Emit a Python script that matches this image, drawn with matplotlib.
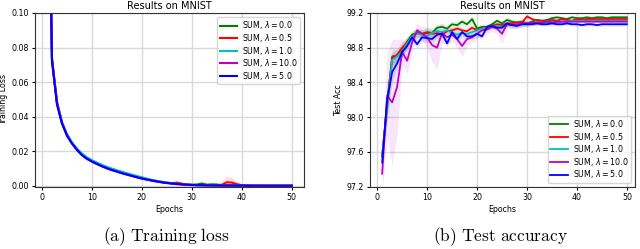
import numpy as np
import matplotlib
matplotlib.use('Agg')
import matplotlib.pyplot as plt

epochs = list(range(1, 51))
labels = [r'SUM, $\lambda = 0.0$', r'SUM, $\lambda = 0.5$', r'SUM, $\lambda = 1.0$',
          r'SUM, $\lambda = 10.0$', r'SUM, $\lambda = 5.0$']
colors = ['g', 'r', 'c', 'm', 'b']

# training loss per epoch
loss_l00 = [0.25, 0.073, 0.048, 0.0365, 0.0295, 0.0248, 0.0212, 0.0182, 0.0160, 0.0144,
            0.0130, 0.0117, 0.0105, 0.0095, 0.0086, 0.0077, 0.0069, 0.0061, 0.0053, 0.0046,
            0.0039, 0.0033, 0.0027, 0.0022, 0.0018, 0.0015, 0.0012, 0.0010, 0.0008, 0.0006,
            0.0008, 0.0014, 0.0007, 0.0009, 0.0008, 0.0004, 0.0003, 0.0003, 0.0002, 0.0002,
            0.0002, 0.0001, 0.0001, 0.0001, 0.0001, 0.0001, 0.0001, 0.0001, 0.0001, 0.0001]
loss_l05 = [0.25, 0.073, 0.048, 0.0365, 0.0295, 0.0248, 0.0211, 0.0181, 0.0159, 0.0143,
            0.0129, 0.0116, 0.0104, 0.0094, 0.0085, 0.0076, 0.0068, 0.0060, 0.0052, 0.0047,
            0.0038, 0.0032, 0.0027, 0.0022, 0.0018, 0.0016, 0.0019, 0.0013, 0.0008, 0.0006,
            0.0005, 0.0004, 0.0004, 0.0003, 0.0003, 0.0006, 0.0021, 0.0019, 0.0010, 0.0004,
            0.0002, 0.0002, 0.0001, 0.0001, 0.0001, 0.0001, 0.0001, 0.0001, 0.0001, 0.0001]
loss_l10 = [0.25, 0.073, 0.0485, 0.037, 0.0300, 0.0252, 0.0216, 0.0187, 0.0165, 0.0149,
            0.0135, 0.0122, 0.0110, 0.0100, 0.0091, 0.0082, 0.0073, 0.0065, 0.0057, 0.0050,
            0.0042, 0.0035, 0.0029, 0.0024, 0.0019, 0.0015, 0.0012, 0.0010, 0.0008, 0.0006,
            0.0005, 0.0004, 0.0004, 0.0003, 0.0003, 0.0002, 0.0002, 0.0002, 0.0002, 0.0001,
            0.0001, 0.0001, 0.0001, 0.0001, 0.0001, 0.0001, 0.0001, 0.0001, 0.0001, 0.0001]
loss_l100 = [0.25, 0.074, 0.0485, 0.0365, 0.0293, 0.0245, 0.0208, 0.0178, 0.0156, 0.0140,
             0.0126, 0.0113, 0.0101, 0.0091, 0.0082, 0.0073, 0.0065, 0.0057, 0.0049, 0.0042,
             0.0036, 0.0030, 0.0025, 0.0020, 0.0016, 0.0013, 0.0010, 0.0008, 0.0006, 0.0005,
             0.0004, 0.0004, 0.0003, 0.0003, 0.0002, 0.0002, 0.0002, 0.0002, 0.0001, 0.0001,
             0.0001, 0.0001, 0.0001, 0.0001, 0.0001, 0.0001, 0.0001, 0.0001, 0.0001, 0.0001]
loss_l50 = [0.25, 0.072, 0.047, 0.036, 0.0290, 0.0245, 0.0208, 0.0178, 0.0157, 0.0141,
            0.0127, 0.0114, 0.0102, 0.0092, 0.0083, 0.0074, 0.0066, 0.0058, 0.0050, 0.0043,
            0.0037, 0.0031, 0.0026, 0.0021, 0.0017, 0.0014, 0.0011, 0.0009, 0.0007, 0.0005,
            0.0004, 0.0004, 0.0003, 0.0003, 0.0003, 0.0002, 0.0002, 0.0002, 0.0002, 0.0002,
            0.0001, 0.0001, 0.0001, 0.0001, 0.0001, 0.0001, 0.0001, 0.0001, 0.0001, 0.0001]
loss_l05_std = [0, 0, 0, 0, 0, 0, 0, 0, 0, 0, 0, 0, 0, 0, 0, 0, 0, 0, 0, 0.0005,
                0, 0, 0, 0, 0, 0, 0.0005, 0.0003, 0, 0, 0, 0, 0, 0, 0, 0.0015, 0.0033, 0.0030, 0.0012, 0,
                0, 0, 0, 0, 0, 0, 0, 0, 0, 0]

# test accuracy per epoch
acc_l00 = [97.55, 98.15, 98.70, 98.71, 98.78, 98.87, 98.95, 98.97, 98.96, 98.98,
           98.97, 99.03, 99.04, 99.02, 99.07, 99.06, 99.10, 99.07, 99.13, 99.02,
           99.04, 99.04, 99.07, 99.11, 99.08, 99.12, 99.10, 99.09, 99.10, 99.08,
           99.10, 99.12, 99.11, 99.12, 99.14, 99.15, 99.14, 99.13, 99.15, 99.14,
           99.14, 99.15, 99.14, 99.15, 99.15, 99.14, 99.15, 99.15, 99.15, 99.15]
acc_l05 = [97.55, 98.15, 98.68, 98.72, 98.80, 98.86, 98.92, 98.97, 98.96, 98.97,
           98.96, 98.97, 98.95, 98.99, 99.00, 99.02, 99.00, 98.99, 99.03, 99.00,
           99.03, 99.03, 99.05, 99.07, 99.06, 99.08, 99.08, 99.09, 99.09, 99.16,
           99.13, 99.11, 99.11, 99.10, 99.12, 99.11, 99.13, 99.12, 99.11, 99.13,
           99.12, 99.13, 99.13, 99.13, 99.13, 99.13, 99.13, 99.13, 99.13, 99.13]
acc_l10 = [97.55, 98.10, 98.66, 98.70, 98.76, 98.85, 98.93, 98.96, 98.95, 98.94,
           98.97, 98.99, 98.98, 99.00, 98.97, 98.95, 98.97, 98.96, 98.98, 99.00,
           99.02, 99.03, 99.04, 99.05, 99.04, 99.06, 99.06, 99.07, 99.07, 99.08,
           99.08, 99.09, 99.08, 99.09, 99.10, 99.09, 99.10, 99.10, 99.11, 99.11,
           99.11, 99.11, 99.11, 99.11, 99.11, 99.11, 99.11, 99.11, 99.11, 99.11]
acc_l100 = [97.35, 98.25, 98.17, 98.35, 98.75, 98.65, 98.86, 99.00, 98.96, 98.92,
            98.83, 98.80, 98.97, 98.92, 98.95, 98.90, 98.82, 98.90, 98.92, 98.96,
            99.00, 99.01, 99.04, 99.02, 98.96, 99.07, 99.06, 99.07, 99.08, 99.08,
            99.09, 99.08, 99.09, 99.10, 99.09, 99.10, 99.10, 99.10, 99.10, 99.10,
            99.10, 99.10, 99.10, 99.10, 99.10, 99.10, 99.10, 99.10, 99.10, 99.10]
acc_l50 = [97.48, 98.20, 98.52, 98.62, 98.75, 98.82, 98.92, 98.84, 98.92, 98.91,
           98.90, 98.95, 98.96, 98.85, 98.98, 98.90, 98.98, 98.93, 98.93, 98.96,
           98.93, 99.04, 99.05, 99.03, 99.03, 99.08, 99.06, 99.05, 99.07, 99.07,
           99.07, 99.08, 99.07, 99.07, 99.08, 99.07, 99.07, 99.08, 99.07, 99.07,
           99.06, 99.07, 99.07, 99.06, 99.07, 99.07, 99.07, 99.07, 99.07, 99.07]

acc_std_l00 = [0.05, 0.15, 0.08, 0.06, 0.08, 0.06, 0.05, 0.05, 0.05, 0.05,
               0.04, 0.04, 0.04, 0.04, 0.04, 0.04, 0.04, 0.04, 0.04, 0.04,
               0.03, 0.03, 0.03, 0.03, 0.03, 0.03, 0.03, 0.03, 0.03, 0.03,
               0.02, 0.02, 0.02, 0.02, 0.02, 0.02, 0.02, 0.02, 0.02, 0.02,
               0.02, 0.02, 0.02, 0.02, 0.02, 0.02, 0.02, 0.02, 0.02, 0.02]
acc_std_l05 = [0.05, 0.15, 0.08, 0.07, 0.08, 0.06, 0.06, 0.05, 0.05, 0.05,
               0.04, 0.04, 0.04, 0.04, 0.04, 0.04, 0.04, 0.04, 0.04, 0.04,
               0.03, 0.03, 0.03, 0.03, 0.03, 0.03, 0.03, 0.03, 0.03, 0.03,
               0.02, 0.02, 0.02, 0.02, 0.02, 0.02, 0.02, 0.02, 0.02, 0.02,
               0.02, 0.02, 0.02, 0.02, 0.02, 0.02, 0.02, 0.02, 0.02, 0.02]
acc_std_l10 = [0.05, 0.15, 0.08, 0.07, 0.08, 0.07, 0.06, 0.06, 0.05, 0.05,
               0.04, 0.04, 0.04, 0.04, 0.04, 0.04, 0.04, 0.04, 0.04, 0.04,
               0.03, 0.03, 0.03, 0.03, 0.03, 0.03, 0.03, 0.03, 0.03, 0.03,
               0.02, 0.02, 0.02, 0.02, 0.02, 0.02, 0.02, 0.02, 0.02, 0.02,
               0.02, 0.02, 0.02, 0.02, 0.02, 0.02, 0.02, 0.02, 0.02, 0.02]
acc_std_l100 = [0.20, 0.50, 0.72, 0.55, 0.15, 0.15, 0.10, 0.08, 0.08, 0.12,
                0.20, 0.25, 0.12, 0.08, 0.08, 0.10, 0.12, 0.08, 0.06, 0.06,
                0.05, 0.05, 0.05, 0.06, 0.12, 0.05, 0.04, 0.04, 0.04, 0.03,
                0.03, 0.03, 0.03, 0.03, 0.03, 0.03, 0.03, 0.03, 0.03, 0.03,
                0.03, 0.03, 0.03, 0.03, 0.03, 0.03, 0.03, 0.03, 0.03, 0.03]
acc_std_l50 = [0.05, 0.20, 0.12, 0.08, 0.06, 0.05, 0.05, 0.05, 0.05, 0.05,
               0.04, 0.04, 0.04, 0.04, 0.04, 0.04, 0.04, 0.04, 0.04, 0.04,
               0.03, 0.03, 0.03, 0.03, 0.03, 0.03, 0.03, 0.03, 0.03, 0.03,
               0.02, 0.02, 0.02, 0.02, 0.02, 0.02, 0.02, 0.02, 0.02, 0.02,
               0.02, 0.02, 0.02, 0.02, 0.02, 0.02, 0.02, 0.02, 0.02, 0.02]

loss_series = [loss_l00, loss_l05, loss_l10, loss_l100, loss_l50]
acc_series = [acc_l00, acc_l05, acc_l10, acc_l100, acc_l50]
acc_stds = [acc_std_l00, acc_std_l05, acc_std_l10, acc_std_l100, acc_std_l50]

fs = 5.7
fig = plt.figure(figsize=(6.4, 2.49), dpi=100)
ax1 = fig.add_axes([0.0543, 0.250, 0.4207, 0.698])
ax2 = fig.add_axes([0.578, 0.250, 0.414, 0.698])

x = np.array(epochs)
for i in range(5):
    y = np.array(loss_series[i])
    ax1.plot(x, y, color=colors[i], lw=1.5, label=labels[i])
    if i == 1:
        s = np.array(loss_l05_std)
        ax1.fill_between(x, y - s, y + s, color=colors[i], alpha=0.12, lw=0)

for i in range(5):
    y = np.array(acc_series[i])
    s = np.array(acc_stds[i])
    ax2.fill_between(x, y - s, y + s, color=colors[i], alpha=0.1, lw=0)
for i in range(5):
    ax2.plot(x, acc_series[i], color=colors[i], lw=1.3, label=labels[i])

leg_kw = dict(fontsize=fs, labelspacing=0.08, borderpad=0.3, handlelength=2.2,
              handletextpad=0.6, borderaxespad=0.5)

ax1.set_ylim(-0.0005, 0.10)
ax1.set_xlim(-1.45, 52.45)
ax1.set_yticks([0.0, 0.02, 0.04, 0.06, 0.08, 0.10])
ax1.set_ylabel('Training Loss', fontsize=fs, labelpad=2)
ax1.legend(loc='upper right', **leg_kw)

ax2.set_ylim(97.2, 99.2)
ax2.set_xlim(-1.45, 51.6)
ax2.set_yticks([97.2, 97.6, 98.0, 98.4, 98.8, 99.2])
ax2.set_ylabel('Test Acc', fontsize=fs, labelpad=2)
ax2.legend(loc='lower right', **leg_kw)

for ax in (ax1, ax2):
    ax.set_xticks([0, 10, 20, 30, 40, 50])
    ax.set_xlabel('Epochs', fontsize=fs, labelpad=2)
    ax.set_title('Results on MNIST', fontsize=7, pad=3)
    ax.tick_params(labelsize=fs, length=2.5, pad=2)
    ax.grid(True, color='#d9d9d9', lw=1.0)
    ax.set_axisbelow(True)
    for sp in ax.spines.values():
        sp.set_color('#333333')
        sp.set_linewidth(0.8)

fig.text(0.26, 0.048, r'$\mathrm{(a)\ Training\ loss}$', ha='center', va='center',
         fontsize=12.5, math_fontfamily='cm')
fig.text(0.782, 0.048, r'$\mathrm{(b)\ Test\ accuracy}$', ha='center', va='center',
         fontsize=12.5, math_fontfamily='cm')

fig.savefig('out.png', dpi=100)
